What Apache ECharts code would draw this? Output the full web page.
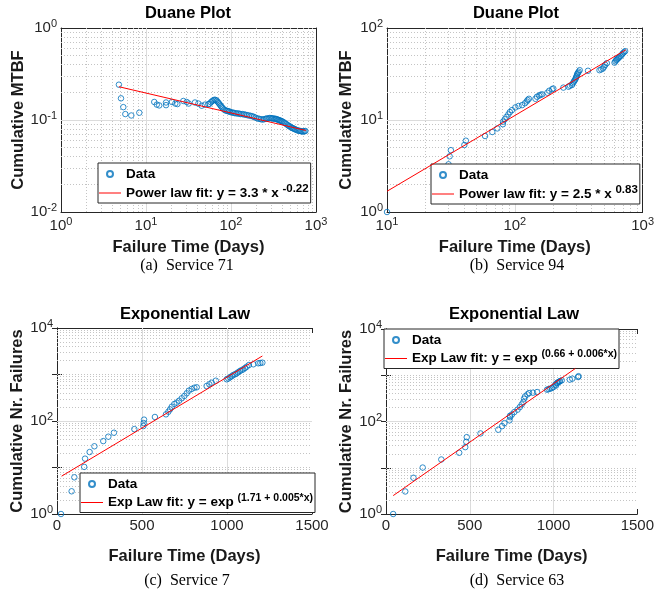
<!DOCTYPE html>
<html>
<head>
<meta charset="utf-8">
<script src="https://cdn.jsdelivr.net/npm/echarts@6/dist/echarts.min.js"></script>
<style>
html,body{margin:0;padding:0;background:#fff;}
#chart{width:657px;height:597px;}
</style>
</head>
<body>
<div id="chart"></div>
<script>
// ---- Service 71 (Duane plot, log-log) ----
var s71Days = [4.8, 5.08, 5.41, 5.71, 6.72, 8.34, 12.5, 13.4, 14.3, 17.2, 17.2, 20.2, 22.1, 23.4, 27.5, 30.1, 31.8, 37.7, 41.3, 45.2, 49.4, 54.1,
  56, 58, 60, 62, 64, 66, 68, 70, 72, 74, 76, 78, 80, 83, 86, 89, 92, 95, 98, 102, 106, 110, 115, 120, 125, 130, 136, 142, 148, 155,
  162, 170, 178, 186, 195, 205, 215, 225, 235, 245, 255, 265, 275, 285, 295, 305, 315, 325, 335, 345, 355, 365, 375, 385, 395, 405,
  420, 435, 450, 465, 480, 495, 510, 525, 540, 555, 570, 590, 610, 630, 650, 670, 690, 710, 730, 750];
var s71Mtbf = [0.242, 0.172, 0.138, 0.116, 0.112, 0.12, 0.157, 0.147, 0.144, 0.155, 0.145, 0.157, 0.151, 0.149, 0.161, 0.157, 0.151, 0.155, 0.151, 0.143, 0.147, 0.149,
  0.150, 0.156, 0.160, 0.164, 0.166, 0.165, 0.162, 0.157, 0.152, 0.147, 0.142, 0.138, 0.134, 0.130, 0.127, 0.126, 0.125, 0.124, 0.122, 0.121, 0.120, 0.119, 0.118, 0.118, 0.117, 0.116, 0.116, 0.115, 0.114, 0.113,
  0.112, 0.111, 0.110, 0.108, 0.106, 0.104, 0.103, 0.102, 0.101, 0.102, 0.103, 0.104, 0.104, 0.105, 0.105, 0.104, 0.104, 0.103, 0.103, 0.102, 0.101, 0.100, 0.099, 0.098, 0.097, 0.096,
  0.094, 0.092, 0.090, 0.088, 0.086, 0.085, 0.083, 0.082, 0.081, 0.080, 0.079, 0.078, 0.077, 0.0765, 0.076, 0.0755, 0.075, 0.075, 0.0755, 0.076];
var s71FitX = [4.8, 760];
var s71FitY = [0.23, 0.077];

// ---- Service 94 (Duane plot, log-log) ----
var s94Days = [10, 30.3, 30.9, 31.6, 40.3, 41.4, 58.5, 66.7, 73, 80.7, 81, 83.5, 86, 89, 91.5, 95, 101, 107, 114, 120, 124, 126, 129, 145, 149, 155, 159, 164,
  180, 186, 196, 200, 240, 263, 270, 280, 285, 289, 293, 297, 300, 303, 306, 308, 312, 316, 322, 374, 460, 475, 490, 500, 510, 525,
  603, 612, 622, 630, 640, 650, 660, 675, 690, 700, 715, 730];
var s94Mtbf = [1.0, 3.3, 4.03, 4.7, 5.35, 5.96, 6.7, 7.4, 8.1, 9.0, 9.6, 10.2, 10.8, 11.5, 12.2, 12.8, 13.7, 14.2, 14.5, 15.2, 15.9, 16.5, 17, 17, 17.9, 18.4, 18.8, 19,
  19.8, 20.8, 21.6, 22, 22.5, 23, 23.6, 24, 25, 26, 26.8, 27.5, 28.5, 29.5, 30.5, 31.6, 32.5, 33.5, 34.8, 34.3, 34.8, 35.5, 36.3, 38, 39.7, 41.5,
  42, 43.5, 44.8, 45.5, 46.5, 47.5, 48.5, 49.8, 51.5, 53, 54.5, 56];
var s94FitX = [10, 740];
var s94FitY = [1.68, 58];

// ---- Service 7 (exponential law, semilog) ----
var s7Days = [23.5, 86, 102, 160, 165, 192, 220, 272, 302, 335, 455, 508, 510, 512, 576, 641, 655, 665, 675, 690, 704, 718, 734, 749, 763, 776, 792, 808, 822,
  880, 896, 910, 934, 998, 1008, 1018, 1028, 1037, 1047, 1057, 1066, 1076, 1086, 1096, 1106, 1116, 1129, 1155, 1184, 1196, 1208];
var s7Fail = [1, 3.08, 6.15, 10.3, 15.5, 21.5, 28.6, 37, 46, 56, 67, 78, 90.5, 107, 122, 139, 158, 178, 203, 232, 248, 273, 308, 345, 394, 449, 488, 520, 531,
  566, 615, 666, 736, 789, 820, 871, 920, 977, 1010, 1061, 1120, 1190, 1240, 1293, 1380, 1472, 1600, 1657, 1742, 1770, 1795];
var s7FitX = [27, 1208];
var s7FitY = [6.5, 2500];

// ---- Service 63 (exponential law, semilog) ----
var s63Days = [42.8, 115, 164, 219, 330, 437, 473, 479, 482, 564, 670, 693, 707, 737, 741, 740, 752, 766, 785, 799, 810, 820, 824, 830, 844, 854, 877, 902,
  961, 970, 980, 990, 1000, 1010, 1015, 1020, 1025, 1029, 1035, 1039, 1049, 1097, 1112, 1147, 1149];
var s63Fail = [1, 3.07, 6.07, 10.1, 15.1, 21.1, 27.9, 36.5, 45.9, 55.2, 66.4, 79.4, 92.3, 106, 124, 133, 142, 160, 180, 205, 234, 263, 312, 349, 386, 412, 420, 433,
  488, 500, 512, 530, 556, 626, 600, 678, 690, 713, 730, 748, 776, 804, 844, 914, 955];
var s63FitX = [43, 1130];
var s63FitY = [2.5, 1400];

var linTicks = [500, 1000];

var FONT = '"Liberation Sans", Arial, sans-serif';
var BLUE = '#0072BD', RED = '#FF0000', AX = '#262626';

function pairs(xs, ys) {
  return xs.map(function (x, i) { return [x, ys[i]]; });
}

function logFmt(skipOdd) {
  return function (v) {
    var e = Math.round(Math.log10(v));
    if (skipOdd && e % 2 !== 0) return '';
    return '10{sup|' + e + '}';
  };
}

// grid lines like matlab: light solid major, dotted minor
function logGridLines(dim, lo, hi, majorEven) {
  var out = [];
  for (var k = lo; k < hi; k++) {
    for (var m = 1; m <= 9; m++) {
      if (m === 1 && k === lo) continue;
      var v = +(m * Math.pow(10, k)).toPrecision(6);
      var major = m === 1 && (!majorEven || k % 2 === 0);
      var item = { lineStyle: major ? { color: '#dcdcdc', type: 'solid', width: 1 } : { color: '#c4c4c4', type: [1, 2], width: 1 } };
      item[dim] = v;
      out.push(item);
    }
  }
  return out;
}
function linGridLines(dim, vals) {
  return vals.map(function (v) {
    var item = { lineStyle: { color: '#dcdcdc', type: 'solid', width: 1 } };
    item[dim] = v;
    return item;
  });
}

var panels = [
  { grid: { left: 61, top: 28, width: 255, height: 184 }, xLog: true, xMin: 1, xMax: 1000, yMin: 0.01, yMax: 1, yName: 'Cumulative MTBF', yGap: 34, xGap: 27,
    lines: logGridLines('xAxis', 0, 3).concat(logGridLines('yAxis', -2, 0)) },
  { grid: { left: 387, top: 28, width: 258, height: 184 }, xLog: true, xMin: 10, xMax: 1000, yMin: 1, yMax: 100, yName: 'Cumulative MTBF', yGap: 32, xGap: 27,
    lines: logGridLines('xAxis', 1, 3).concat(logGridLines('yAxis', 0, 2)) },
  { grid: { left: 57, top: 328, width: 255, height: 186 }, xLog: false, xMin: 0, xMax: 1500, yMin: 1, yMax: 10000, yName: 'Cumulative Nr. Failures', yGap: 30, xGap: 34,
    lines: linGridLines('xAxis', linTicks).concat(logGridLines('yAxis', 0, 4, true)) },
  { grid: { left: 386, top: 329, width: 256, height: 185 }, xLog: false, xMin: 0, xMax: 1500, yMin: 1, yMax: 10000, yName: 'Cumulative Nr. Failures', yGap: 30, xGap: 34,
    lines: linGridLines('xAxis', linTicks).concat(logGridLines('yAxis', 0, 4, true)) }
];

var seriesData = [
  { name: 'Data 71', pts: pairs(s71Days, s71Mtbf), fit: pairs(s71FitX, s71FitY), fitName: 'Fit 71' },
  { name: 'Data 94', pts: pairs(s94Days, s94Mtbf), fit: pairs(s94FitX, s94FitY), fitName: 'Fit 94' },
  { name: 'Data 7', pts: pairs(s7Days, s7Fail), fit: pairs(s7FitX, s7FitY), fitName: 'Fit 7' },
  { name: 'Data 63', pts: pairs(s63Days, s63Fail), fit: pairs(s63FitX, s63FitY), fitName: 'Fit 63' }
];

var legendText = {
  'Data 71': 'Data', 'Data 94': 'Data', 'Data 7': 'Data', 'Data 63': 'Data',
  'Fit 71': 'Power law fit: y = 3.3 * x {sup|-0.22}',
  'Fit 94': 'Power law fit: y = 2.5 * x {sup|0.83}',
  'Fit 7': 'Exp Law fit: y = exp {sup|(1.71 + 0.005*x)}',
  'Fit 63': 'Exp Law fit: y = exp {sup|(0.66 + 0.006*x)}'
};
var legendPos = [{ left: 98, top: 163 }, { left: 431, top: 164 }, { left: 80, top: 473 }, { left: 384, top: 329 }];

var tickRich = { sup: { fontSize: 11, fontFamily: FONT, color: AX, padding: [0, 0, 8, 0] } };

var grids = [], xAxes = [], yAxes = [], series = [], legends = [];

panels.forEach(function (p, i) {
  grids.push(p.grid);
  var tickStyle = { show: true, inside: true, length: 5, lineStyle: { color: AX, width: 1 } };
  var lineStyle = { show: true, lineStyle: { color: AX, width: 1 } };
  var xBase = {
    gridIndex: i, type: p.xLog ? 'log' : 'value', logBase: 10, min: p.xMin, max: p.xMax,
    axisLine: lineStyle, axisTick: tickStyle, splitLine: { show: false }, minorTick: { show: false }
  };
  if (!p.xLog) xBase.interval = 500;
  xAxes.push(Object.assign({}, xBase, {
    position: 'bottom',
    name: 'Failure Time (Days)', nameLocation: 'middle', nameGap: p.xGap,
    nameTextStyle: { fontFamily: FONT, fontSize: 16.5, fontWeight: 'bold', color: '#1a1a1a' },
    axisLabel: {
      show: true, margin: 4, fontFamily: FONT, fontSize: 15, color: AX,
      formatter: p.xLog ? logFmt(false) : function (v) { return String(v); },
      rich: tickRich
    }
  }));
  xAxes.push(Object.assign({}, xBase, { position: 'top', axisLabel: { show: false } }));

  var yBase = {
    gridIndex: i, type: 'log', logBase: 10, min: p.yMin, max: p.yMax,
    axisLine: lineStyle, axisTick: tickStyle, splitLine: { show: false }, minorTick: { show: false }
  };
  yAxes.push(Object.assign({}, yBase, {
    position: 'left',
    name: p.yName, nameLocation: 'middle', nameGap: p.yGap, nameRotate: 90,
    nameTextStyle: { fontFamily: FONT, fontSize: 16.5, fontWeight: 'bold', color: '#1a1a1a' },
    axisLabel: {
      show: true, margin: 4, fontFamily: FONT, fontSize: 15, color: AX,
      formatter: logFmt(i >= 2), rich: tickRich
    }
  }));
  yAxes.push(Object.assign({}, yBase, { position: 'right', axisLabel: { show: false } }));

  var d = seriesData[i];
  // grid lines
  series.push({
    type: 'line', name: 'grid' + i, xAxisIndex: 2 * i, yAxisIndex: 2 * i, data: [], silent: true,
    markLine: { silent: true, symbol: ['none', 'none'], label: { show: false }, z: 1, animation: false, data: p.lines }
  });
  series.push({
    type: 'scatter', name: d.name, xAxisIndex: 2 * i, yAxisIndex: 2 * i, data: d.pts,
    symbol: 'circle', symbolSize: 5.5, z: 3, silent: true,
    itemStyle: { color: 'rgba(0,0,0,0)', borderColor: BLUE, borderWidth: 1 }
  });
  series.push({
    type: 'line', name: d.fitName, xAxisIndex: 2 * i, yAxisIndex: 2 * i, data: d.fit,
    symbol: 'none', z: 4, silent: true,
    lineStyle: { color: RED, width: 1 }, itemStyle: { color: RED }
  });

  var supSize = i >= 2 ? 10.5 : 11.5;
  legends.push({
    data: [{ name: d.name }, { name: d.fitName, icon: 'path://M0,0H22V1H0Z', itemStyle: { color: RED } }],
    orient: 'vertical', left: legendPos[i].left, top: legendPos[i].top,
    selectedMode: false, backgroundColor: '#fff', borderColor: AX, borderWidth: 1,
    padding: [4, 2, 3, 1], itemGap: 2, itemWidth: 22, itemHeight: 6, symbolKeepAspect: true,
    formatter: function (name) { return legendText[name]; },
    textStyle: {
      fontFamily: FONT, fontSize: 13.5, fontWeight: 'bold', color: '#000',
      rich: { sup: { fontFamily: FONT, fontSize: supSize, fontWeight: 'bold', color: '#000', padding: [0, 0, 8, 0] } }
    }
  });
});

function label(txt, x, y, font) {
  return {
    type: 'text', x: x, y: y, silent: true,
    style: { text: txt, font: font, fill: '#000', textAlign: 'center', align: 'center', textVerticalAlign: 'middle', verticalAlign: 'middle' }
  };
}
var titleFont = 'bold 16.5px "Liberation Sans", Arial, sans-serif';
var capFont = '16px "Liberation Serif", "Times New Roman", serif';

var option = {
  animation: false,
  backgroundColor: '#fff',
  grid: grids,
  xAxis: xAxes,
  yAxis: yAxes,
  legend: legends,
  series: series,
  graphic: [
    label('Duane Plot', 188, 13, titleFont),
    label('Duane Plot', 516, 13, titleFont),
    label('Exponential Law', 185, 314, titleFont),
    label('Exponential Law', 514, 314, titleFont),
    label('(a)  Service 71', 187, 266, capFont),
    label('(b)  Service 94', 517, 266, capFont),
    label('(c)  Service 7', 187, 581, capFont),
    label('(d)  Service 63', 517, 581, capFont)
  ]
};

var myChart = echarts.init(document.getElementById('chart'));
myChart.setOption(option);
</script>
</body>
</html>
